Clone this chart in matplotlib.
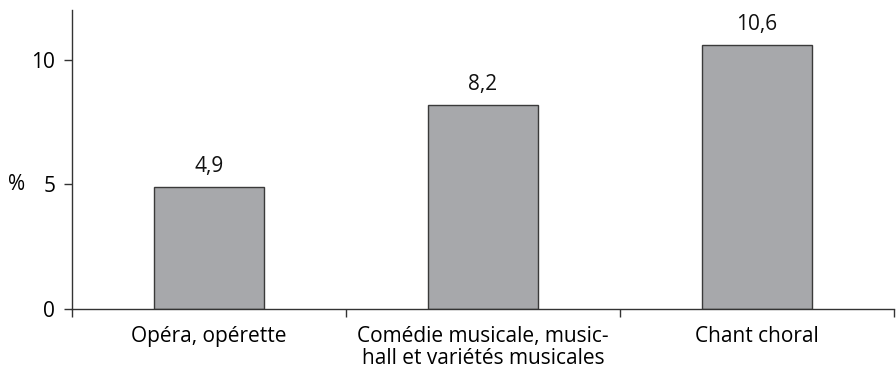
import matplotlib
matplotlib.use("Agg")
import matplotlib.pyplot as plt

categories = ["Opéra, opérette",
              "Comédie musicale, music-\nhall et variétés musicales",
              "Chant choral"]
values = [4.9, 8.2, 10.6]
value_labels = ["4,9", "8,2", "10,6"]
y_ticks = [0, 5, 10]

plt.rcParams["font.family"] = ["Open Sans", "DejaVu Sans"]
FS = 15

fig = plt.figure(figsize=(8.96, 3.77), dpi=100)
ax = fig.add_axes([0.0804, 0.1804, 0.9174, 0.7931])

x = list(range(len(categories)))
bars = ax.bar(x, values, width=0.4, color="#a7a8ab", edgecolor="#3a3a3a", linewidth=1.0)

for b, lab in zip(bars, value_labels):
    ax.annotate(lab, (b.get_x() + b.get_width() / 2, b.get_height()),
                xytext=(0, 7), textcoords="offset points",
                ha="center", va="bottom", fontsize=FS, color="#111111")

ax.set_xlim(-0.5, len(categories) - 0.5)
ax.set_ylim(0, 12)

# category labels centred under bars, ticks on the boundaries
ax.set_xticks([i - 0.5 for i in range(len(categories) + 1)])
ax.set_xticklabels([])
ax.set_xticks(x, minor=True)
ax.set_xticklabels(categories, minor=True, fontsize=FS, linespacing=1.1)
ax.tick_params(axis="x", which="minor", length=0, pad=12)
ax.tick_params(axis="x", which="major", length=6, width=1, color="#333333")

ax.set_yticks(y_ticks)
ax.set_yticklabels([str(t) for t in y_ticks], fontsize=FS)
ax.tick_params(axis="y", length=6, width=1, color="#333333", pad=6)

ax.text(-0.078, 5, "%", transform=ax.get_yaxis_transform(), ha="left", va="center",
        fontsize=FS)

for s in ["top", "right"]:
    ax.spines[s].set_visible(False)
for s in ["left", "bottom"]:
    ax.spines[s].set_color("#333333")
    ax.spines[s].set_linewidth(1)

fig.savefig("out.png", dpi=100)
